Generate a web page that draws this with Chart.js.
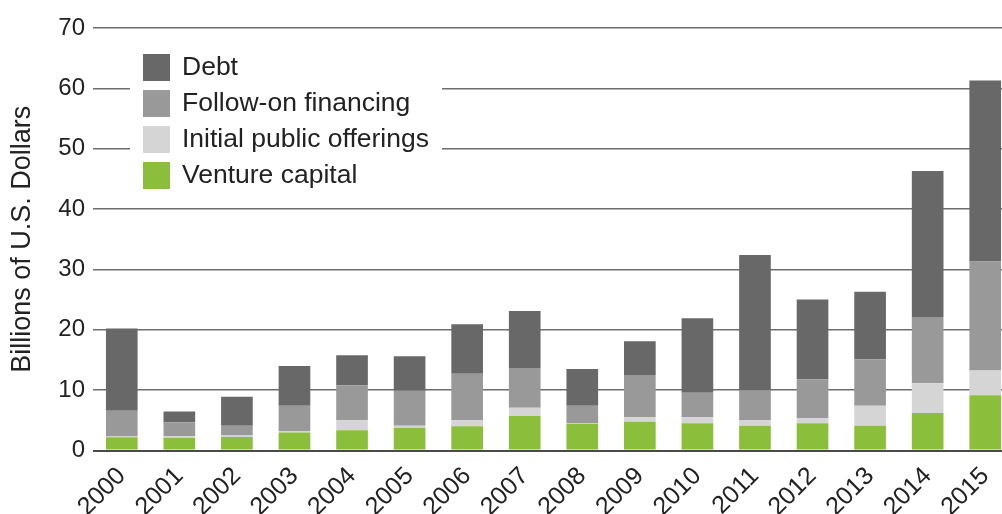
<!DOCTYPE html>
<html>
<head>
<meta charset="utf-8">
<script src="https://cdn.jsdelivr.net/npm/chart.js@4/dist/chart.umd.min.js"></script>
<style>
  html, body { margin: 0; padding: 0; background: #fff; overflow: hidden; }
  #wrap { position: relative; width: 1016px; height: 514px; }
</style>
</head>
<body>
<div id="wrap"><canvas id="chart"></canvas></div>
<script>
// Data (billions of U.S. dollars)
const years = ['2000', '2001', '2002', '2003', '2004', '2005', '2006', '2007',
               '2008', '2009', '2010', '2011', '2012', '2013', '2014', '2015'];
const ventureCapital = [2.2, 2.1, 2.25, 3.0, 3.35, 3.75, 4.0, 5.7, 4.45, 4.75, 4.5, 4.1, 4.5, 4.1, 6.2, 9.15];
const ipos           = [0.1, 0.25, 0.25, 0.25, 1.65, 0.35, 1.0, 1.4, 0.1, 0.75, 1.0, 0.9, 0.85, 3.3, 4.95, 4.1];
const followOn       = [4.3, 2.35, 1.6, 4.15, 5.8, 5.8, 7.7, 6.55, 2.85, 7.0, 4.05, 4.95, 6.45, 7.7, 10.95, 18.05];
const debt           = [13.6, 1.75, 4.8, 6.6, 5.0, 5.7, 8.2, 9.45, 6.1, 5.6, 12.35, 22.45, 13.2, 11.2, 24.2, 30.0];
const yTickValues    = [0, 10, 20, 30, 40, 50, 60, 70];

const FONT = "'Liberation Sans', Arial, Helvetica, sans-serif";
const TEXT = '#222';

// legend drawn inside the plot on a white box, Debt on top
const insideLegend = {
  id: 'insideLegend',
  afterDatasetsDraw(chart) {
    const ctx = chart.ctx;
    const items = chart.data.datasets.slice().reverse();
    ctx.save();
    ctx.fillStyle = '#fff';
    ctx.fillRect(130, 40, 312, 160);
    ctx.font = '26.5px ' + FONT;
    ctx.textBaseline = 'middle';
    ctx.textAlign = 'left';
    items.forEach((ds, i) => {
      const y = 54 + i * 36;
      ctx.fillStyle = ds.backgroundColor;
      ctx.fillRect(143, y, 27, 27);
      ctx.fillStyle = TEXT;
      ctx.fillText(ds.label, 182, y + 14);
    });
    ctx.restore();
  }
};

new Chart(document.getElementById('chart'), {
  type: 'bar',
  data: {
    labels: years,
    datasets: [
      { label: 'Venture capital', data: ventureCapital, backgroundColor: '#8bbe3b' },
      { label: 'Initial public offerings', data: ipos, backgroundColor: '#d5d5d5' },
      { label: 'Follow-on financing', data: followOn, backgroundColor: '#989998' },
      { label: 'Debt', data: debt, backgroundColor: '#676867' }
    ]
  },
  options: {
    responsive: true,
    maintainAspectRatio: false,
    animation: false,
    layout: { padding: { top: 28, right: 2, left: 0, bottom: 0 } },
    datasets: { bar: { categoryPercentage: 1, barPercentage: 0.55 } },
    plugins: {
      legend: { display: false },
      tooltip: { enabled: false }
    },
    scales: {
      x: {
        stacked: true,
        grid: { display: false },
        border: { display: false },
        ticks: {
          color: TEXT,
          font: { family: FONT, size: 25 },
          minRotation: 45,
          maxRotation: 45,
          autoSkip: false,
          padding: 3
        },
        afterFit(scale) { scale.height = 63.5; }
      },
      y: {
        stacked: true,
        min: 0,
        max: 70,
        afterBuildTicks(scale) { scale.ticks = yTickValues.map(v => ({ value: v })); },
        afterFit(scale) { scale.width = 93; },
        grid: {
          drawTicks: false,
          color: ctx => ctx.tick && ctx.tick.value === 0 ? '#4a4a4a' : '#6e6e6e',
          lineWidth: ctx => ctx.tick && ctx.tick.value === 0 ? 2 : 1.5
        },
        border: { display: false },
        ticks: {
          color: TEXT,
          font: { family: FONT, size: 24 },
          padding: 8
        },
        title: {
          display: true,
          text: 'Billions of U.S. Dollars',
          color: TEXT,
          font: { family: FONT, size: 27 },
          padding: { top: 6, bottom: 0 }
        }
      }
    }
  },
  plugins: [insideLegend]
});
</script>
</body>
</html>
